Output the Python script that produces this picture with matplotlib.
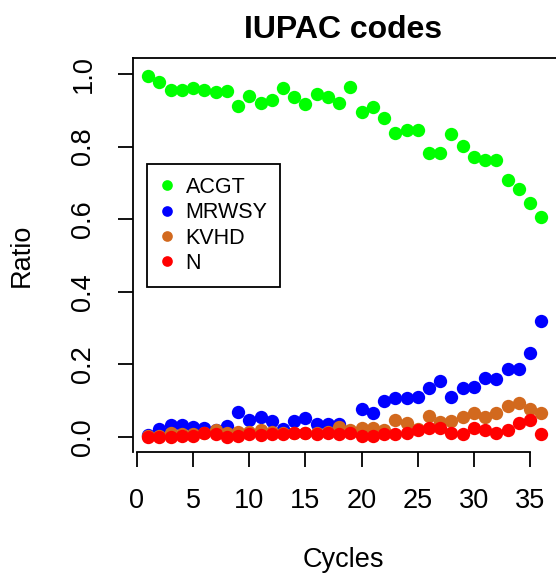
import matplotlib
matplotlib.use("Agg")
import matplotlib.pyplot as plt

plt.rcParams['font.family'] = ['Liberation Sans', 'DejaVu Sans']

# values
cycles = list(range(1, 37))
acgt = [0.994, 0.979, 0.956, 0.956, 0.960, 0.957, 0.951, 0.953, 0.913, 0.940,
        0.921, 0.928, 0.960, 0.937, 0.917, 0.944, 0.936, 0.921, 0.963, 0.896,
        0.910, 0.879, 0.838, 0.846, 0.846, 0.783, 0.783, 0.834, 0.802, 0.772,
        0.763, 0.763, 0.708, 0.682, 0.645, 0.607]
mrwsy = [0.006, 0.021, 0.033, 0.033, 0.028, 0.024, 0.018, 0.031, 0.070, 0.047,
         0.056, 0.044, 0.022, 0.045, 0.051, 0.037, 0.037, 0.037, 0.015, 0.078,
         0.066, 0.098, 0.108, 0.108, 0.111, 0.136, 0.155, 0.111, 0.136, 0.139,
         0.163, 0.159, 0.187, 0.187, 0.231, 0.320]
kvhd = [0.002, 0.004, 0.010, 0.008, 0.008, 0.012, 0.019, 0.012, 0.015, 0.015,
        0.019, 0.015, 0.010, 0.012, 0.012, 0.010, 0.015, 0.027, 0.020, 0.026,
        0.026, 0.019, 0.047, 0.038, 0.021, 0.058, 0.041, 0.045, 0.054, 0.065,
        0.054, 0.065, 0.085, 0.093, 0.077, 0.065]
n_ratio = [0.000, 0.000, 0.000, 0.002, 0.002, 0.010, 0.008, 0.000, 0.002, 0.007,
           0.005, 0.008, 0.007, 0.011, 0.012, 0.009, 0.010, 0.009, 0.010, 0.003,
           0.003, 0.007, 0.007, 0.010, 0.019, 0.024, 0.024, 0.010, 0.007, 0.024,
           0.019, 0.010, 0.019, 0.038, 0.047, 0.007]

series = [("ACGT", acgt, "#00FF00"),
          ("MRWSY", mrwsy, "#0000FF"),
          ("KVHD", kvhd, "#D2691E"),
          ("N", n_ratio, "#FF0000")]

W, H = 556, 580
fig = plt.figure(figsize=(W / 100, H / 100), dpi=100)
# axes box in pixels: left 132.5, right 557, top 58, bottom 452
ax = fig.add_axes([132.5 / W, (H - 452) / H, (557 - 132.5) / W, (452 - 58) / H])

for name, vals, col in series:
    ax.plot(cycles, vals, linestyle='none', marker='o', markersize=9.6,
            markeredgewidth=0, color=col, label=name)

ax.set_xlim(-0.4, 37.4)
ax.set_ylim(-0.0413, 1.044)
ax.set_xticks([0, 5, 10, 15, 20, 25, 30, 35])
ax.set_yticks([0.0, 0.2, 0.4, 0.6, 0.8, 1.0])
ax.set_yticklabels(["0.0", "0.2", "0.4", "0.6", "0.8", "1.0"],
                   rotation=90, va='center')
ax.tick_params(direction='out', length=11, width=1.3, labelsize=19.5, pad=15)

for s in ['top', 'left', 'bottom']:
    ax.spines[s].set_linewidth(1.3)
ax.spines['right'].set_visible(False)
ax.spines['bottom'].set_bounds(0, 35)

leg = ax.legend(loc='upper left', bbox_to_anchor=(0.034, 0.731), fontsize=15.5,
                frameon=True, fancybox=False, edgecolor='black', framealpha=1,
                markerscale=0.8, handlelength=0.7, handletextpad=0.5,
                labelspacing=0.2, borderpad=0.6, borderaxespad=0)
leg.get_frame().set_linewidth(1.3)

fig.text(343 / W, 1 - 38 / H, "IUPAC codes", fontsize=23, fontweight='bold',
         ha='center', va='baseline')
fig.text(343 / W, 1 - 567 / H, "Cycles", fontsize=19.5, ha='center', va='baseline')
fig.text(22 / W, 1 - 255 / H, "Ratio", fontsize=19.5, rotation=90,
         ha='center', va='center')

fig.savefig("out.png", dpi=100)
